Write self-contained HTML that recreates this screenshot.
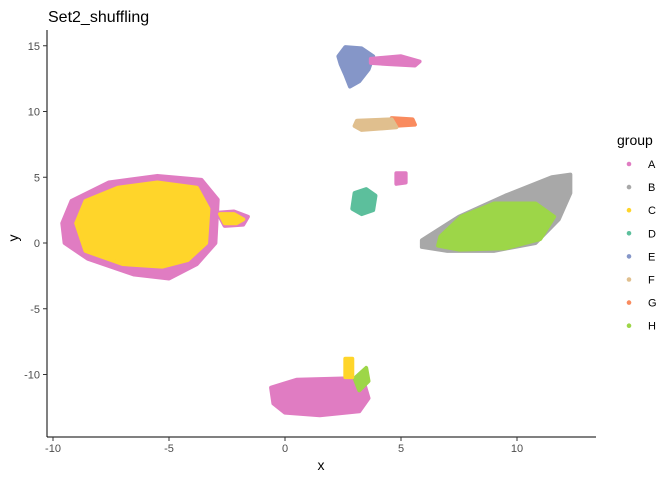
<!DOCTYPE html>
<html><head><meta charset="utf-8"><style>
body{margin:0;background:#fff;font-family:"Liberation Sans",sans-serif}
svg text{font-family:"Liberation Sans",sans-serif}
</style></head><body>
<svg id="chart" width="672" height="480" xmlns="http://www.w3.org/2000/svg">
<text x="48" y="22" font-size="16" fill="#000">Set2_shuffling</text>
<g id="marks"></g>
<g id="axes"></g>
<g id="legend"></g>
</svg>
<script>
// tick data
const xTicks=[-10,-5,0,5,10];
const yTicks=[15,10,5,0,-5,-10];
// groups
const groups=["A","B","C","D","E","F","G","H"];
const colors=["#e07cc2","#a8a8a8","#ffd52a","#5cbf9c","#8596c8","#e0bf8e","#f98b5e","#9dd648"];
// cluster outlines, data coords [x,y] pairs, per group index
const clusterGroup=[0,2,0,2,4,0,6,5,3,0,1,7,0,7,2];
const clusterShapes=[
 [[-9.6,1.5],[-9.2,3.2],[-7.6,4.6],[-5.5,5.1],[-3.6,4.8],[-2.9,3.3],[-3,0],[-3.8,-1.6],[-5,-2.7],[-6.5,-2.4],[-8.5,-1.2],[-9.5,0]],
 [[-9,1.5],[-8.6,3.2],[-7.2,4.2],[-5.5,4.6],[-3.8,4.2],[-3.3,2.6],[-3.4,0],[-4.2,-1.3],[-5.3,-1.8],[-7,-1.6],[-8.6,-0.6]],
 [[-2.9,2.3],[-2.2,2.4],[-1.6,2],[-1.8,1.4],[-2.6,1.3]],
 [[-2.8,2.2],[-2.2,2.2],[-1.8,1.8],[-2.1,1.5],[-2.6,1.5]],
 [[2.3,14.2],[2.6,14.9],[3.3,14.8],[3.8,14.2],[3.6,13.2],[3.2,12.3],[2.8,11.9],[2.6,12.8],[2.4,13.6]],
 [[3.7,14],[5,14.2],[5.8,13.8],[5.6,13.5],[4.5,13.6],[3.7,13.7]],
 [[4.6,9.5],[5.5,9.4],[5.6,9],[4.6,8.9]],
 [[3.1,9.3],[4.6,9.4],[4.8,8.8],[3.3,8.6],[3,8.9]],
 [[3,3.8],[3.5,4.1],[3.9,3.6],[3.8,2.5],[3.3,2.2],[2.9,2.6]],
 [[4.8,5.3],[5.2,5.3],[5.2,4.6],[4.8,4.5]],
 [[5.9,0.2],[7.5,2],[9.5,3.6],[11.5,5],[12.3,5.2],[12.3,3.8],[11.8,1.8],[10.8,0],[9,-0.6],[7,-0.6],[5.9,-0.3]],
 [[6.7,0.5],[7.6,2],[9,3],[10.8,3],[11.6,2],[11,0.3],[9.5,-0.4],[7.5,-0.5],[6.6,-0.2]],
 [[-0.6,-11],[0.5,-10.4],[2.5,-10.3],[3.4,-10.6],[3.6,-11.8],[3.2,-12.8],[1.5,-13.1],[0,-12.9],[-0.5,-12.2]],
 [[3,-10.3],[3.5,-9.5],[3.6,-10.5],[3.2,-11.2]],
 [[2.6,-8.8],[2.9,-8.8],[2.9,-10.2],[2.6,-10.2]]
];
const X0=285,XS=23.2,Y0=243,YS=13.15;
const sx=v=>X0+v*XS, sy=v=>Y0-v*YS;
const NS="http://www.w3.org/2000/svg";
const marks=document.getElementById('marks');
clusterShapes.forEach((pts,i)=>{
 const p=document.createElementNS(NS,'polygon');
 p.setAttribute('points',pts.map(q=>sx(q[0])+','+sy(q[1])).join(' '));
 p.setAttribute('fill',colors[clusterGroup[i]]);
 p.setAttribute('stroke',colors[clusterGroup[i]]);
 p.setAttribute('stroke-width','4');
 p.setAttribute('stroke-linejoin','round');
 
 
 marks.appendChild(p);
});
const axes=document.getElementById('axes');
function el(t,a,txt){const e=document.createElementNS(NS,t);for(const k in a)e.setAttribute(k,a[k]);if(txt!==undefined)e.textContent=txt;axes.appendChild(e);return e;}
let l=el('line',{x1:47,y1:437,x2:596,y2:437,stroke:'#000','stroke-width':1});


l=el('line',{x1:47,y1:30,x2:47,y2:437,stroke:'#000','stroke-width':1});


xTicks.forEach(v=>{
 el('line',{x1:sx(v),y1:437,x2:sx(v),y2:441,stroke:'#333'});
 const t=el('text',{x:sx(v),y:452,'font-size':11,fill:'#4d4d4d','text-anchor':'middle'},v);
 
 
});
yTicks.forEach(v=>{
 el('line',{x1:43,y1:sy(v),x2:47,y2:sy(v),stroke:'#333'});
 const t=el('text',{x:40,y:sy(v)+4,'font-size':11,fill:'#4d4d4d','text-anchor':'end'},v);
 
 
});
let t=el('text',{x:321,y:470,'font-size':14,'text-anchor':'middle'},'x');


t=el('text',{x:18,y:238,'font-size':14,'text-anchor':'middle',transform:'rotate(-90 18 238)'},'y');


t=el('text',{x:617,y:145,'font-size':14},'group');


groups.forEach((g,i)=>{
 const y=164+i*23.1;
 const c=el('circle',{cx:629,cy:y,r:2.3,fill:colors[i]});
 
 
 const tx=el('text',{x:648,y:y+4,'font-size':11},g);
 
 
});
</script>
</body></html>
